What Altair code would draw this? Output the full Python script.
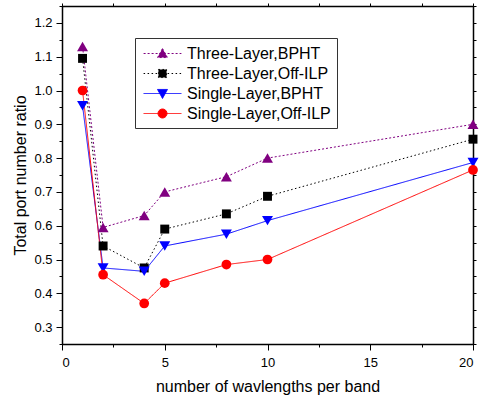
import altair as alt
import pandas as pd

# ---------------- data ----------------
x_vals = [1, 2, 4, 5, 8, 10, 20]
series_names = ["Three-Layer,BPHT", "Three-Layer,Off-ILP", "Single-Layer,BPHT", "Single-Layer,Off-ILP"]
three_bpht = [1.13, 0.595, 0.63, 0.70, 0.745, 0.80, 0.90]
three_ilp = [1.095, 0.54, 0.475, 0.59, 0.635, 0.687, 0.856]
single_bpht = [0.955, 0.475, 0.465, 0.54, 0.575, 0.615, 0.787]
single_ilp = [1.0, 0.455, 0.37, 0.43, 0.485, 0.50, 0.765]
x_ticks = [0, 2.5, 5, 7.5, 10, 12.5, 15, 17.5, 20]
y_ticks = [round(0.25 + 0.05 * i, 2) for i in range(21)]

# ---------------- styles ----------------
colors = ["#800080", "#000000", "#0000ff", "#ff0000"]
point_shapes = ["triangle-up", "square", "triangle-down", "circle"]
point_sizes = [120, 80, 120, 95]
dashes = [[2, 2], [1.5, 2.5], [1, 0], [1, 0]]
legend_paths = [
    "M-2.1,0H2.1M0,-0.55L0.55,0.45L-0.55,0.45Z",
    "M-2.1,0H2.1M-0.45,-0.45H0.45V0.45H-0.45Z",
    "M-2.1,0H2.1M0,0.55L0.55,-0.45L-0.55,-0.45Z",
    "M-2.1,0H2.1M0.5,0A0.5,0.5 0 1,1 -0.5,0A0.5,0.5 0 1,1 0.5,0Z",
]

values = [three_bpht, three_ilp, single_bpht, single_ilp]
rows = []
for name, vals in zip(series_names, values):
    for xv, yv in zip(x_vals, vals):
        rows.append({"x": xv, "y": yv, "series": name})
df = pd.DataFrame(rows)

x_scale = alt.Scale(domain=[0, 20], nice=False, zero=False)
y_scale = alt.Scale(domain=[0.25, 1.25], nice=False, zero=False)

X = alt.X(
    "x:Q",
    scale=x_scale,
    title="number of wavlengths per band",
    axis=alt.Axis(
        values=x_ticks,
        labelExpr="datum.value % 5 == 0 ? datum.label : ''",
        format="d",
        tickSize={"condition": {"test": "datum.value % 5 == 0", "value": 6}, "value": 3},
        titlePadding=9,
        labelPadding=6,
    ),
)
Y = alt.Y(
    "y:Q",
    scale=y_scale,
    title="Total port number ratio",
    axis=alt.Axis(
        values=y_ticks,
        format=".1f",
        labelExpr="round(datum.value*20) % 2 == 0 ? datum.label : ''",
        tickSize={"condition": {"test": "round(datum.value*20) % 2 == 0", "value": 6}, "value": 3},
        titlePadding=5,
        labelPadding=4,
    ),
)

layers = []
for i, name in enumerate(series_names):
    sub = alt.Chart(df).transform_filter(alt.datum.series == name)
    layers.append(
        sub.mark_line(color=colors[i], strokeWidth=1, strokeDash=dashes[i]).encode(x=X, y=Y)
    )
for i, name in enumerate(series_names):
    sub = alt.Chart(df).transform_filter(alt.datum.series == name)
    layers.append(
        sub.mark_point(
            shape=point_shapes[i], filled=True, size=point_sizes[i], color=colors[i], opacity=1
        ).encode(x=X, y=Y)
    )

leg = alt.Legend(
    title=None,
    orient="none",
    legendX=73,
    legendY=32,
    padding=6,
    strokeColor="#333333",
    fillColor="white",
    symbolSize=324,
    symbolStrokeWidth=1,
    symbolOffset=12,
    labelOffset=15,
    rowPadding=2,
    labelFont="Liberation Sans",
    labelFontSize=16,
    labelColor="black",
    labelLimit=300,
)

legend_layer = (
    alt.Chart(df)
    .transform_filter("false")
    .mark_point(filled=True, size=324, strokeWidth=1, opacity=1)
    .encode(
        x=X,
        y=Y,
        fill=alt.Fill("series:N", scale=alt.Scale(domain=series_names, range=colors), legend=leg),
        stroke=alt.Stroke("series:N", scale=alt.Scale(domain=series_names, range=colors), legend=leg),
        shape=alt.Shape("series:N", scale=alt.Scale(domain=series_names, range=legend_paths), legend=leg),
        strokeDash=alt.StrokeDash("series:N", scale=alt.Scale(domain=series_names, range=dashes), legend=leg),
    )
)

main = alt.layer(*layers, legend_layer)

mirror = (
    alt.Chart(df)
    .mark_point(opacity=0)
    .encode(
        x=alt.X("x:Q", scale=x_scale, axis=alt.Axis(orient="top", labels=False, title=None, values=x_ticks, tickSize=3)),
        y=alt.Y("y:Q", scale=y_scale, axis=alt.Axis(orient="right", labels=False, title=None, values=y_ticks, tickSize=3)),
    )
)

chart = (
    alt.layer(main, mirror)
    .resolve_scale(x="independent", y="independent")
    .properties(
        width=411,
        height=338,
        autosize=alt.AutoSizeParams(type="none"),
        padding={"left": 62, "top": 6, "right": 9, "bottom": 52},
        background="white",
    )
    .configure_view(stroke="black", strokeWidth=1)
    .configure_axis(
        grid=False,
        domainColor="black",
        domainWidth=1.5,
        tickColor="black",
        tickWidth=1,
        labelFont="Liberation Sans",
        labelFontSize=13,
        labelColor="black",
        titleFont="Liberation Sans",
        titleFontSize=16,
        titleFontWeight="normal",
        titleColor="black",
    )
)

chart.save("out.html", embed_options={"renderer": "svg", "actions": False})
